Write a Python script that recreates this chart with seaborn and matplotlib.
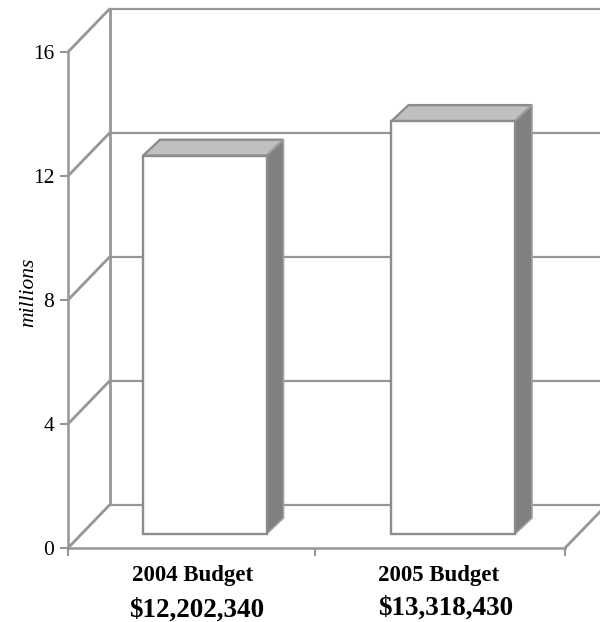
import matplotlib
matplotlib.use("Agg")
import matplotlib.pyplot as plt
import pandas as pd
import seaborn as sns
from matplotlib.patches import Polygon
from matplotlib.transforms import Affine2D

budget_names = ["2004 Budget", "2005 Budget"]
budget_dollars = [12202340, 13318430]
y_ticks = [0, 4, 8, 12, 16]
axis_title = "millions"

W, H = 600, 622
LINE = "#969696"
EDGE = "#8c8c8c"
TOP = "#c0c0c0"
SIDE = "#808080"

sns.set_theme(style="white", rc={"font.family": ["Liberation Serif", "DejaVu Serif"]})
fig = plt.figure(figsize=(W / 100, H / 100), dpi=100, facecolor="white")
# Front plane of the box: 68..565 px wide, 52..548 px tall
ax = fig.add_axes([68 / W, 1 - 548 / H, (565 - 68) / W, (548 - 52) / H])

df = pd.DataFrame({"name": budget_names, "millions": [v / 1e6 for v in budget_dollars]})
sns.barplot(data=df, x="name", y="millions", ax=ax, width=0.497, color="white",
            edgecolor=EDGE, linewidth=1.7, saturation=1, zorder=5)
ax.set_xlim(-0.5, 1.5)
ax.set_ylim(0, 16)
ax.set_facecolor("none")

px_x = 2.0 / (565 - 68)
px_y = 16.0 / (548 - 52)
box_dx, box_dy = 42 * px_x, 43.5 * px_y   # depth of the whole box
bar_dx, bar_dy = 12.5 * px_x, 14 * px_y   # how far the bars sit behind the front
deep_dx, deep_dy = 17 * px_x, 16 * px_y   # depth of one bar


def wall_line(xs, ys, lw=1.7):
    ax.plot(xs, ys, color=LINE, lw=lw, clip_on=False, zorder=1, solid_capstyle="butt")


# Back wall, left wall and floor
for tick in y_ticks:
    wall_line([-0.5, -0.5 + box_dx], [tick, tick + box_dy], lw=2)
    wall_line([-0.5 + box_dx, 1.5 + box_dx], [tick + box_dy] * 2, lw=1.6)
wall_line([-0.5 + box_dx] * 2, [box_dy, 16 + box_dy], lw=2)
wall_line([1.5, 1.5 + box_dx], [0, box_dy], lw=2)

# Move the seaborn bars back into the box and add their top and side faces
shift = Affine2D().translate(bar_dx, bar_dy) + ax.transData
for patch in ax.patches[:len(budget_names)]:
    patch.set_transform(shift)
    patch.set_clip_on(False)
    x0, x1 = patch.get_x(), patch.get_x() + patch.get_width()
    h = patch.get_height()
    top = [(x0, h), (x1, h), (x1 + deep_dx, h + deep_dy), (x0 + deep_dx, h + deep_dy)]
    side = [(x1, 0), (x1 + deep_dx, deep_dy), (x1 + deep_dx, h + deep_dy), (x1, h)]
    ax.add_patch(Polygon(top, closed=True, facecolor=TOP, edgecolor=EDGE, lw=1.7,
                         transform=shift, clip_on=False, zorder=4))
    ax.add_patch(Polygon(side, closed=True, facecolor=SIDE, edgecolor="#a0a0a0", lw=1.2,
                         transform=shift, clip_on=False, zorder=4))

sns.despine(ax=ax, top=True, right=True)
for side_name in ("left", "bottom"):
    ax.spines[side_name].set_color(LINE)
    ax.spines[side_name].set_linewidth(1.8)
    ax.spines[side_name].set_zorder(6)

ax.set_yticks(y_ticks)
ax.tick_params(axis="y", length=6, width=1.5, color=LINE, labelsize=15.5, pad=4, labelcolor="black", left=True)
ax.set_xticks([-0.5, 0.494, 1.5])
ax.set_xticklabels([])
ax.tick_params(axis="x", which="major", length=6, width=1.5, color=LINE, bottom=True)
ax.set_xticks([0, 1], minor=True)
ax.set_xticklabels(budget_names, minor=True, fontsize=16.5, fontweight="bold", color="black")
ax.tick_params(axis="x", which="minor", length=0, pad=12, bottom=False)
for label, nudge in zip(ax.get_xticklabels(minor=True), (0, -2)):
    label.set_transform(label.get_transform() + Affine2D().translate(nudge, 0))
ax.set_xlabel("")
ax.set_ylabel(axis_title, fontsize=15.5, fontstyle="italic", color="black")
ax.yaxis.set_label_coords(38 / W, 1 - 292 / H, transform=fig.transFigure)

# Dollar amounts under the category names
for i, amount in enumerate(budget_dollars):
    ax.annotate(f"${amount:,}", xy=(i, 0), xytext=((4 + i * 1) * 0.72, -(62 - 2 * i) * 0.72),
                textcoords="offset points", ha="center", va="center",
                fontsize=19.5, fontweight="bold", color="black", annotation_clip=False)

fig.savefig("out.png", dpi=100, facecolor="white")
